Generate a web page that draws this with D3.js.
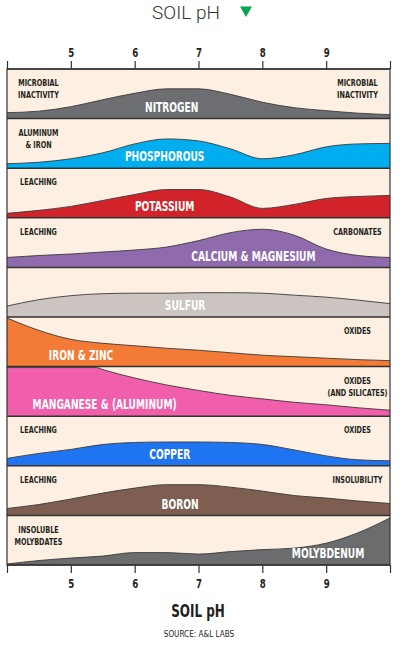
<!DOCTYPE html>
<html>
<head>
<meta charset="utf-8">
<script src="https://cdn.jsdelivr.net/npm/d3@7"></script>
<style>
  body { margin: 0; background: #fff; }
  .cond { font-family: "DejaVu Sans Condensed", "DejaVu Sans", sans-serif; font-weight: bold; }
</style>
</head>
<body>
<div id="chart"></div>
<script>
var svgWidth = 400;
var svgHeight = 649;

var margin = { top: 69, right: 10, bottom: 84, left: 7 };

// pH grid the curves were read on
var phSteps = [4, 4.5, 5, 5.5, 6, 6.5, 7, 7.5, 8, 8.5, 9, 9.5, 10];
var manganesePh = [4, 5.4, 5.5, 6, 6.5, 7, 7.5, 8, 8.5, 9, 9.5, 10];
var tickValues = [4, 5, 6, 7, 8, 9, 10];
var tickLabels = ["", "5", "6", "7", "8", "9", ""];

var nutrients = ["NITROGEN", "PHOSPHOROUS", "POTASSIUM", "CALCIUM & MAGNESIUM", "SULFUR",
  "IRON & ZINC", "MANGANESE & (ALUMINUM)", "COPPER", "BORON", "MOLYBDENUM"];

// relative availability (0 = band bottom, 1 = band top)
var nitrogen   = [0.12, 0.15, 0.24, 0.38, 0.51, 0.60, 0.60, 0.49, 0.33, 0.22, 0.16, 0.11, 0.08];
var phosphorus = [0.09, 0.12, 0.19, 0.31, 0.49, 0.59, 0.55, 0.39, 0.19, 0.27, 0.43, 0.49, 0.50];
var potassium  = [0.09, 0.15, 0.23, 0.35, 0.47, 0.57, 0.57, 0.42, 0.19, 0.27, 0.39, 0.43, 0.45];
var calcium    = [0.20, 0.24, 0.27, 0.31, 0.35, 0.41, 0.54, 0.70, 0.77, 0.65, 0.37, 0.24, 0.20];
var sulfur     = [0.22, 0.35, 0.43, 0.47, 0.48, 0.48, 0.49, 0.49, 0.48, 0.44, 0.40, 0.34, 0.27];
var ironZinc   = [0.98, 0.73, 0.55, 0.47, 0.42, 0.37, 0.33, 0.28, 0.23, 0.20, 0.17, 0.14, 0.12];
var manganese  = [0.98, 0.98, 0.94, 0.77, 0.63, 0.52, 0.42, 0.35, 0.28, 0.23, 0.17, 0.12];
var copper     = [0.15, 0.25, 0.33, 0.43, 0.47, 0.48, 0.48, 0.47, 0.43, 0.32, 0.20, 0.12, 0.10];
var boron      = [0.14, 0.22, 0.33, 0.45, 0.55, 0.62, 0.62, 0.57, 0.49, 0.40, 0.35, 0.29, 0.24];
var molybdenum = [0.02, 0.09, 0.14, 0.18, 0.25, 0.25, 0.22, 0.27, 0.31, 0.34, 0.44, 0.65, 0.95];

var leftNotes  = [["MICROBIAL", "INACTIVITY"], ["ALUMINUM", "& IRON"], ["LEACHING"], ["LEACHING"], [],
  [], [], ["LEACHING"], ["LEACHING"], ["INSOLUBLE", "MOLYBDATES"]];
var rightNotes = [["MICROBIAL", "INACTIVITY"], [], [], ["CARBONATES"], [],
  ["OXIDES"], ["OXIDES", "(AND SILICATES)"], ["OXIDES"], ["INSOLUBILITY"], []];

var colors = ["#6d6e71", "#00aeef", "#d2232a", "#8f6aad", "#cbc4c0",
  "#f47b36", "#f15fac", "#1f74f2", "#7e5e50", "#6b6c6e"];
// where the name sits along the pH axis
var labelPh = [6.58, 6.47, 6.47, 7.86, 6.79, 5.16, 5.53, 6.55, 6.71, 9.03];

var series = [nitrogen, phosphorus, potassium, calcium, sulfur, ironZinc, manganese, copper, boron, molybdenum];

var width = svgWidth - margin.left - margin.right;
var height = svgHeight - margin.top - margin.bottom;

var svg = d3.select("#chart")
  .append("svg")
  .attr("width", svgWidth)
  .attr("height", svgHeight);

var chartGroup = svg.append("g")
  .attr("transform", `translate(${margin.left}, ${margin.top})`);

// condensed text: DejaVu is too wide, squeeze it
function condText(sel, x, y, str, size, sx) {
  return sel.append("text")
    .attr("class", "cond")
    .attr("transform", `translate(${x}, ${y}) scale(${sx}, 1)`)
    .attr("dy", "0.36em")
    .attr("text-anchor", "middle")
    .attr("font-size", size)
    .text(str);
}

var xScale = d3.scaleLinear()
  .domain([4, 10])
  .range([0, width]);

var bandScale = d3.scaleBand()
  .domain(nutrients)
  .range([0, height]);

var bh = bandScale.bandwidth();
var yScale = d3.scaleLinear().domain([0, 1]).range([bh, 0]);

var bands = chartGroup.selectAll(null)
  .data(nutrients)
  .enter()
  .append("g")
  .attr("transform", d => `translate(0, ${bandScale(d)})`);

bands.append("rect")
  .attr("width", width)
  .attr("height", bh)
  .attr("fill", "#fdf0e3");

var area = d3.area()
  .x(d => xScale(d[0]))
  .y0(bh)
  .y1(d => yScale(d[1]))
  .curve(d3.curveMonotoneX);

var line = d3.line()
  .x(d => xScale(d[0]))
  .y(d => yScale(d[1]))
  .curve(d3.curveMonotoneX);

bands.each(function(d, i) {
  var g = d3.select(this);
  var xs = (d === "MANGANESE & (ALUMINUM)") ? manganesePh : phSteps;
  var pts = series[i].map((v, j) => [xs[j], v]);

  g.append("path")
    .attr("d", area(pts))
    .attr("fill", colors[i]);
  g.append("path")
    .attr("d", line(pts))
    .attr("fill", "none")
    .attr("stroke", "#3a3a3a")
    .attr("stroke-width", 0.9);

  condText(g, xScale(labelPh[i]), bh - 12, d, 14.5, 0.7)
    .attr("fill", "#fff");

  leftNotes[i].forEach(function(t, k) {
    condText(g, 31.5, 14 + k * 12, t, 9, 0.8).attr("fill", "#231f20");
  });
  rightNotes[i].forEach(function(t, k) {
    condText(g, 350.5, 14 + k * 12, t, 9, 0.8).attr("fill", "#231f20");
  });
});

// band separators
chartGroup.selectAll(null)
  .data(nutrients.concat(["end"]))
  .enter()
  .append("line")
  .attr("x1", 0)
  .attr("x2", width)
  .attr("y1", d => d === "end" ? height : bandScale(d))
  .attr("y2", d => d === "end" ? height : bandScale(d))
  .attr("stroke", "#333")
  .attr("stroke-width", 1.5);

chartGroup.append("rect")
  .attr("width", width)
  .attr("height", height)
  .attr("fill", "none")
  .attr("stroke", "#333")
  .attr("stroke-width", 1.2);

// axes
var topAxis = d3.axisTop(xScale)
  .tickValues(tickValues)
  .tickFormat((d, i) => tickLabels[i])
  .tickSize(8)
  .tickPadding(4);

var bottomAxis = d3.axisBottom(xScale)
  .tickValues(tickValues)
  .tickFormat((d, i) => tickLabels[i])
  .tickSize(8)
  .tickPadding(6);

[chartGroup.append("g").call(topAxis),
 chartGroup.append("g").attr("transform", `translate(0, ${height})`).call(bottomAxis)]
  .forEach(function(ax) {
    ax.select(".domain").remove();
    ax.selectAll(".tick line").attr("stroke", "#333").attr("stroke-width", 1.2);
    ax.selectAll(".tick text")
      .attr("class", "cond")
      .attr("transform", "scale(0.8, 1)")
      .attr("fill", "#231f20")
      .attr("font-size", 12);
  });

// titles
svg.append("text")
  .attr("x", 186)
  .attr("y", 19)
  .attr("text-anchor", "middle")
  .attr("font-family", "Roboto, 'Liberation Sans', sans-serif")
  .attr("font-weight", 300)
  .attr("font-size", 19)
  .attr("fill", "#333")
  .text("SOIL pH");

svg.append("path")
  .attr("d", d3.symbol(d3.symbolTriangle, 62)())
  .attr("transform", "translate(246, 10) rotate(180)")
  .attr("fill", "#00a651");

condText(svg, 198, 611, "SOIL pH", 18, 0.74).attr("fill", "#231f20");

svg.append("text")
  .attr("transform", "translate(199, 634) scale(0.9, 1)")
  .attr("dy", "0.36em")
  .attr("text-anchor", "middle")
  .attr("font-family", "'DejaVu Sans Condensed', sans-serif")
  .attr("font-size", 9)
  .attr("fill", "#231f20")
  .text("SOURCE:  A&L LABS");
</script>
</body>
</html>
